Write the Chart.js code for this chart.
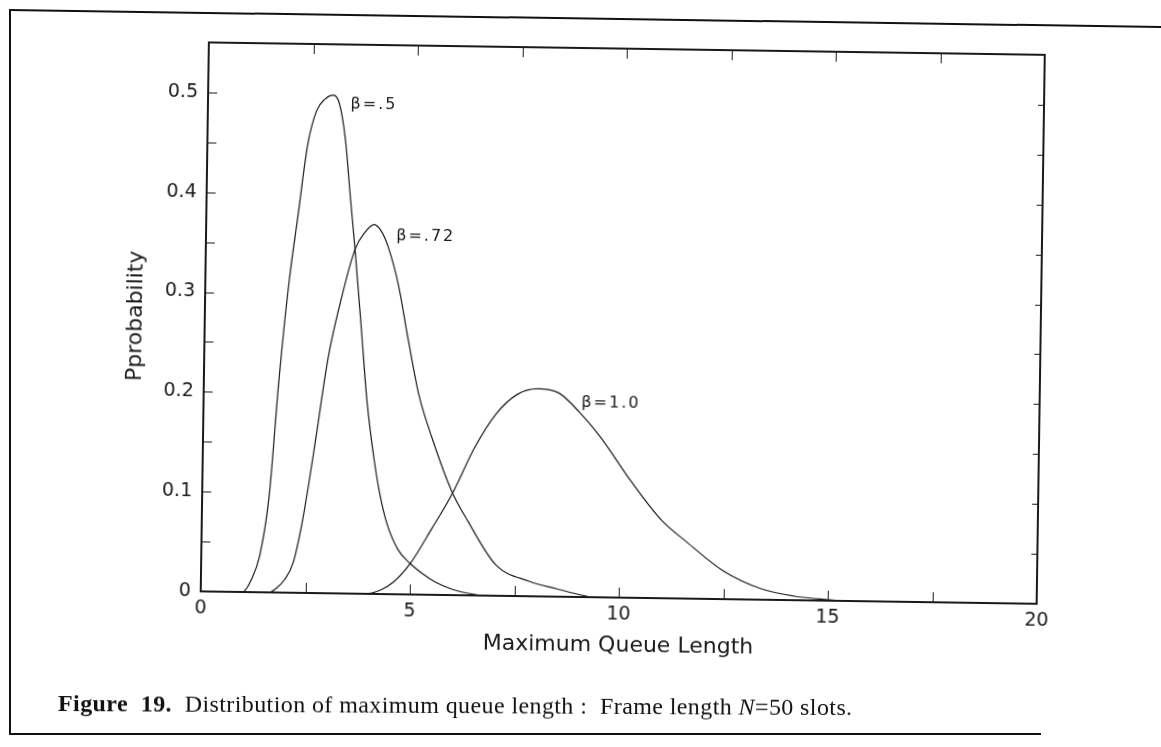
<!DOCTYPE html>
<html>
<head>
<meta charset="utf-8">
<script src="https://cdn.jsdelivr.net/npm/chart.js@4.4.1/dist/chart.umd.min.js"></script>
<style>
  html, body { margin: 0; padding: 0; background: #fff; }
  body { width: 1161px; height: 747px; position: relative; overflow: hidden; }
  #wrap { position: absolute; left: 0; top: 0; width: 1161px; height: 747px;
          transform: rotate(0.85deg); transform-origin: 50% 50%; }
  #c { position: absolute; left: 0; top: 0; }
  .ln { position: absolute; background: #111; }
  #caption { position: absolute; left: 58px; top: 690px; font-family: "Liberation Serif", serif;
             font-size: 24px; letter-spacing: 0.4px; color: #111; white-space: pre;
             transform: rotate(0.3deg); transform-origin: 0 50%; }
  #caption b { font-weight: bold; }
  #caption i { font-style: italic; }
</style>
</head>
<body>
<div class="ln" style="left:9px; top:9px; width:1160px; height:2px; transform: rotate(0.845deg); transform-origin: 0 0;"></div>
<div class="ln" style="left:9px; top:10px; width:2px; height:725px;"></div>
<div class="ln" style="left:9px; top:733px; width:1032px; height:2px;"></div>
<div id="wrap"><canvas id="c" width="1161" height="747"></canvas></div>
<div id="caption"><b>Figure  19.</b>  Distribution of maximum queue length :  Frame length <i>N</i>=50 slots.</div>
<script>
// ---- data ----
const xTickValues = [0, 5, 10, 15, 20];
const yTickValues = [0, 0.1, 0.2, 0.3, 0.4, 0.5];
const yTickLabels = ['0', '0.1', '0.2', '0.3', '0.4', '0.5'];
const xMinorTicks = [2.5, 5, 7.5, 10, 12.5, 15, 17.5];
const yMinorTicks = [0.05, 0.1, 0.15, 0.2, 0.25, 0.3, 0.35, 0.4, 0.45, 0.5];

const beta05X = [0, 1.0, 1.2, 1.4, 1.6, 1.8, 2.0, 2.2, 2.4, 2.6, 2.8, 3.0, 3.15, 3.3, 3.45, 3.57, 3.75, 3.91, 4.1, 4.25, 4.42, 4.7, 5.0, 5.3, 5.6, 6.0, 6.4, 6.8, 20];
const beta05Y = [0, 0, 0.012, 0.037, 0.095, 0.215, 0.31, 0.38, 0.449, 0.483, 0.495, 0.499, 0.49, 0.455, 0.393, 0.345, 0.265, 0.193, 0.135, 0.1, 0.072, 0.045, 0.031, 0.021, 0.013, 0.006, 0.002, 0, 0];

const beta072X = [0, 1.63, 1.8, 2.0, 2.2, 2.4, 2.65, 2.97, 3.23, 3.57, 3.8, 4.02, 4.2, 4.37, 4.62, 4.88, 5.15, 5.48, 5.97, 6.37, 7.05, 7.85, 8.5, 9.0, 9.4, 20];
const beta072Y = [0, 0, 0.004, 0.013, 0.03, 0.07, 0.14, 0.237, 0.29, 0.345, 0.362, 0.37, 0.363, 0.347, 0.31, 0.254, 0.2, 0.157, 0.104, 0.074, 0.031, 0.015, 0.008, 0.003, 0, 0];

const beta10X = [0, 3.9, 4.3, 4.6, 5.0, 5.5, 6.0, 6.5, 7.0, 7.5, 8.0, 8.5, 9.0, 9.5, 10.25, 11.0, 11.6, 12.5, 13.4, 14.2, 15.0, 15.5, 20];
const beta10Y = [0, 0, 0.004, 0.012, 0.031, 0.066, 0.103, 0.148, 0.182, 0.202, 0.208, 0.204, 0.185, 0.161, 0.117, 0.078, 0.057, 0.028, 0.011, 0.004, 0.001, 0, 0];

const seriesLabels = ['\u03B2=.5', '\u03B2=.72', '\u03B2=1.0'];
const seriesLabelPos = [[3.41, 0.49], [4.55, 0.359], [9.04, 0.1945]];

function toPoints(xs, ys) { return xs.map((x, i) => ({ x: x, y: ys[i] })); }

const INK = '#1a1a1a';
const tickFont = { family: '"DejaVu Sans", sans-serif', size: 19 };
const titleFont = { family: '"DejaVu Sans", sans-serif', size: 22 };

const framePlugin = {
  id: 'frame',
  afterDatasetsDraw(chart) {
    const { ctx, chartArea: a, scales } = chart;
    const xs = scales.x, ys = scales.y;
    ctx.save();
    ctx.strokeStyle = INK;
    ctx.lineWidth = 2;
    ctx.strokeRect(a.left, a.top, a.right - a.left, a.bottom - a.top);
    ctx.lineWidth = 1;
    ctx.beginPath();
    xMinorTicks.forEach(v => {
      const px = Math.round(xs.getPixelForValue(v)) + 0.5;
      ctx.moveTo(px, a.bottom); ctx.lineTo(px, a.bottom - 10);
      ctx.moveTo(px, a.top); ctx.lineTo(px, a.top + 10);
    });
    yMinorTicks.forEach(v => {
      const py = Math.round(ys.getPixelForValue(v)) + 0.5;
      ctx.moveTo(a.left, py); ctx.lineTo(a.left + 9, py);
      ctx.moveTo(a.right, py); ctx.lineTo(a.right - 6, py);
    });
    ctx.stroke();
    // curve labels
    ctx.fillStyle = INK;
    ctx.font = '16px "DejaVu Sans", sans-serif';
    ctx.letterSpacing = '2px';
    ctx.textAlign = 'left';
    ctx.textBaseline = 'middle';
    seriesLabels.forEach((t, i) => {
      ctx.fillText(t, xs.getPixelForValue(seriesLabelPos[i][0]), ys.getPixelForValue(seriesLabelPos[i][1]));
    });
    ctx.restore();
  }
};

const mk = (xs, ys, label) => ({
  label: label,
  data: toPoints(xs, ys),
  showLine: true,
  borderColor: INK,
  borderWidth: 1.2,
  pointRadius: 0,
  fill: false,
  cubicInterpolationMode: 'monotone'
});

new Chart(document.getElementById('c'), {
  type: 'scatter',
  data: {
    datasets: [
      mk(beta05X, beta05Y, seriesLabels[0]),
      mk(beta072X, beta072Y, seriesLabels[1]),
      mk(beta10X, beta10Y, seriesLabels[2])
    ]
  },
  options: {
    responsive: false,
    animation: false,
    layout: { padding: { left: 0, right: 121, top: 48, bottom: 0 } },
    plugins: { legend: { display: false }, tooltip: { enabled: false } },
    scales: {
      x: {
        type: 'linear', min: 0, max: 20,
        grid: { display: false, drawTicks: false },
        border: { display: false },
        afterBuildTicks: s => { s.ticks = xTickValues.map(v => ({ value: v })); },
        afterFit: s => { s.height = 150; },
        ticks: { color: INK, font: tickFont, padding: 6, maxRotation: 0, autoSkip: false,
                 callback: v => String(v) },
        title: { display: true, text: 'Maximum Queue Length', color: INK, font: titleFont,
                 padding: { top: 0, bottom: 89 } }
      },
      y: {
        type: 'linear', min: 0, max: 0.55,
        grid: { display: false, drawTicks: false },
        border: { display: false },
        afterBuildTicks: s => { s.ticks = yTickValues.map(v => ({ value: v })); },
        afterFit: s => { s.width = 204; },
        ticks: { color: INK, font: tickFont, padding: 10, autoSkip: false,
                 callback: (v, i) => yTickLabels[i] },
        title: { display: true, text: 'Pprobability', color: INK, font: titleFont,
                 padding: { top: 122, bottom: 0 } }
      }
    }
  },
  plugins: [framePlugin]
});
</script>
</body>
</html>
